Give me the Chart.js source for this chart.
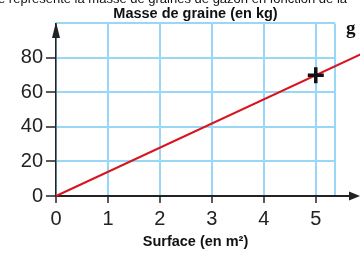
<!DOCTYPE html>
<html>
<head>
<meta charset="utf-8">
<script src="https://cdn.jsdelivr.net/npm/chart.js@4"></script>
<style>
  html, body { margin: 0; padding: 0; background: #fff; }
  #wrap { width: 360px; height: 253px; position: relative; }
</style>
</head>
<body>
<div id="wrap"><canvas id="chart"></canvas></div>
<script>
// Masse de graine en fonction de la surface

// Data
const surface = [0, 6];          // m²
const masse = [0, 84];           // kg (droite y = 14x)
const pointX = [5];
const pointY = [70];
const xTickValues = [0, 1, 2, 3, 4, 5];
const xGridEnd = 5.37;

// Colors
const gridBlue = '#98d7f6';
const axisDark = '#222222';
const lineRed = '#d8141f';
const titleFont = '"Liberation Sans", Arial, sans-serif';
const tickFont = '"Liberation Sans", Arial, sans-serif';

// Axis arrows, extension of x axis and the cut text of the page
const decorPlugin = {
    id: 'decor',
    afterDraw(chart) {
        const ctx = chart.ctx;
        const area = chart.chartArea;
        ctx.save();

        // x axis extension + arrow
        ctx.strokeStyle = axisDark;
        ctx.fillStyle = axisDark;
        ctx.lineWidth = 2;
        ctx.beginPath();
        ctx.moveTo(area.right, area.bottom);
        ctx.lineTo(352, area.bottom);
        ctx.stroke();
        ctx.beginPath();
        ctx.moveTo(360, area.bottom);
        ctx.lineTo(349, area.bottom - 4.5);
        ctx.lineTo(349, area.bottom + 4.5);
        ctx.closePath();
        ctx.fill();

        // y axis arrow
        ctx.beginPath();
        ctx.moveTo(area.left, 22);
        ctx.lineTo(area.left - 4, 38);
        ctx.lineTo(area.left + 4, 38);
        ctx.closePath();
        ctx.fill();

        // texts cut by the screenshot
        ctx.fillStyle = '#111';
        ctx.font = '13px "Liberation Sans", Arial, sans-serif';
        ctx.textBaseline = 'alphabetic';
        ctx.textAlign = 'left';
        ctx.fillText('e représente la masse de graines de gazon en fonction de la', -2, 3);
        ctx.font = 'bold 19px "Liberation Serif", "Times New Roman", serif';
        ctx.fillText('g', 346, 34);
        ctx.restore();
    }
};

const ctx = document.getElementById('chart').getContext('2d');
const chart = new Chart(ctx, {
    type: 'line',
    data: {
        datasets: [
            {
                data: surface.map((x, i) => ({ x: x, y: masse[i] })),
                borderColor: lineRed,
                borderWidth: 2,
                pointRadius: 0,
                clip: false,
                order: 2
            },
            {
                data: pointX.map((x, i) => ({ x: x, y: pointY[i] })),
                showLine: false,
                pointStyle: 'cross',
                pointRadius: 8,
                borderColor: '#111',
                borderWidth: 3.5,
                clip: false,
                order: 1
            }
        ]
    },
    plugins: [decorPlugin],
    options: {
        responsive: true,
        maintainAspectRatio: false,
        animation: false,
        layout: { padding: { left: 0, right: 25, top: 0, bottom: 0 } },
        plugins: {
            legend: { display: false },
            tooltip: { enabled: false },
            title: {
                display: true,
                text: 'Masse de graine (en kg)',
                fullSize: false,
                color: '#111',
                font: { family: titleFont, size: 14.5, weight: 'bold' },
                padding: { top: 5, bottom: 1 }
            }
        },
        scales: {
            x: {
                type: 'linear',
                min: 0,
                max: xGridEnd,
                afterBuildTicks: scale => {
                    scale.ticks = xTickValues.concat([xGridEnd]).map(v => ({ value: v }));
                },
                afterFit: scale => { scale.height = 57; },
                grid: {
                    color: gridBlue,
                    lineWidth: 2,
                    tickLength: 7,
                    tickColor: c => (c.tick && xTickValues.includes(c.tick.value)) ? axisDark : 'rgba(0,0,0,0)',
                    tickWidth: 1.5
                },
                border: { color: axisDark, width: 2 },
                ticks: {
                    color: axisDark,
                    padding: 4,
                    font: { family: tickFont, size: 20 },
                    callback: v => xTickValues.includes(v) ? String(v) : ''
                },
                title: {
                    display: true,
                    text: 'Surface (en m²)',
                    color: '#111',
                    font: { family: titleFont, size: 14.5, weight: 'bold' },
                    padding: { top: 0, bottom: 2 }
                }
            },
            y: {
                min: 0,
                max: 100,
                afterFit: scale => { scale.width = 56; },
                grid: {
                    color: gridBlue,
                    lineWidth: 2,
                    tickLength: 10,
                    tickColor: c => (c.tick && c.tick.value % 20 === 0 && c.tick.value < 100) ? axisDark : 'rgba(0,0,0,0)',
                    tickWidth: 1.5
                },
                border: { color: axisDark, width: 1.5 },
                ticks: {
                    stepSize: 10,
                    color: axisDark,
                    padding: 3,
                    font: { family: tickFont, size: 20 },
                    callback: v => (v % 20 === 0 && v < 100) ? String(v) : ''
                }
            }
        }
    }
});
</script>
</body>
</html>
